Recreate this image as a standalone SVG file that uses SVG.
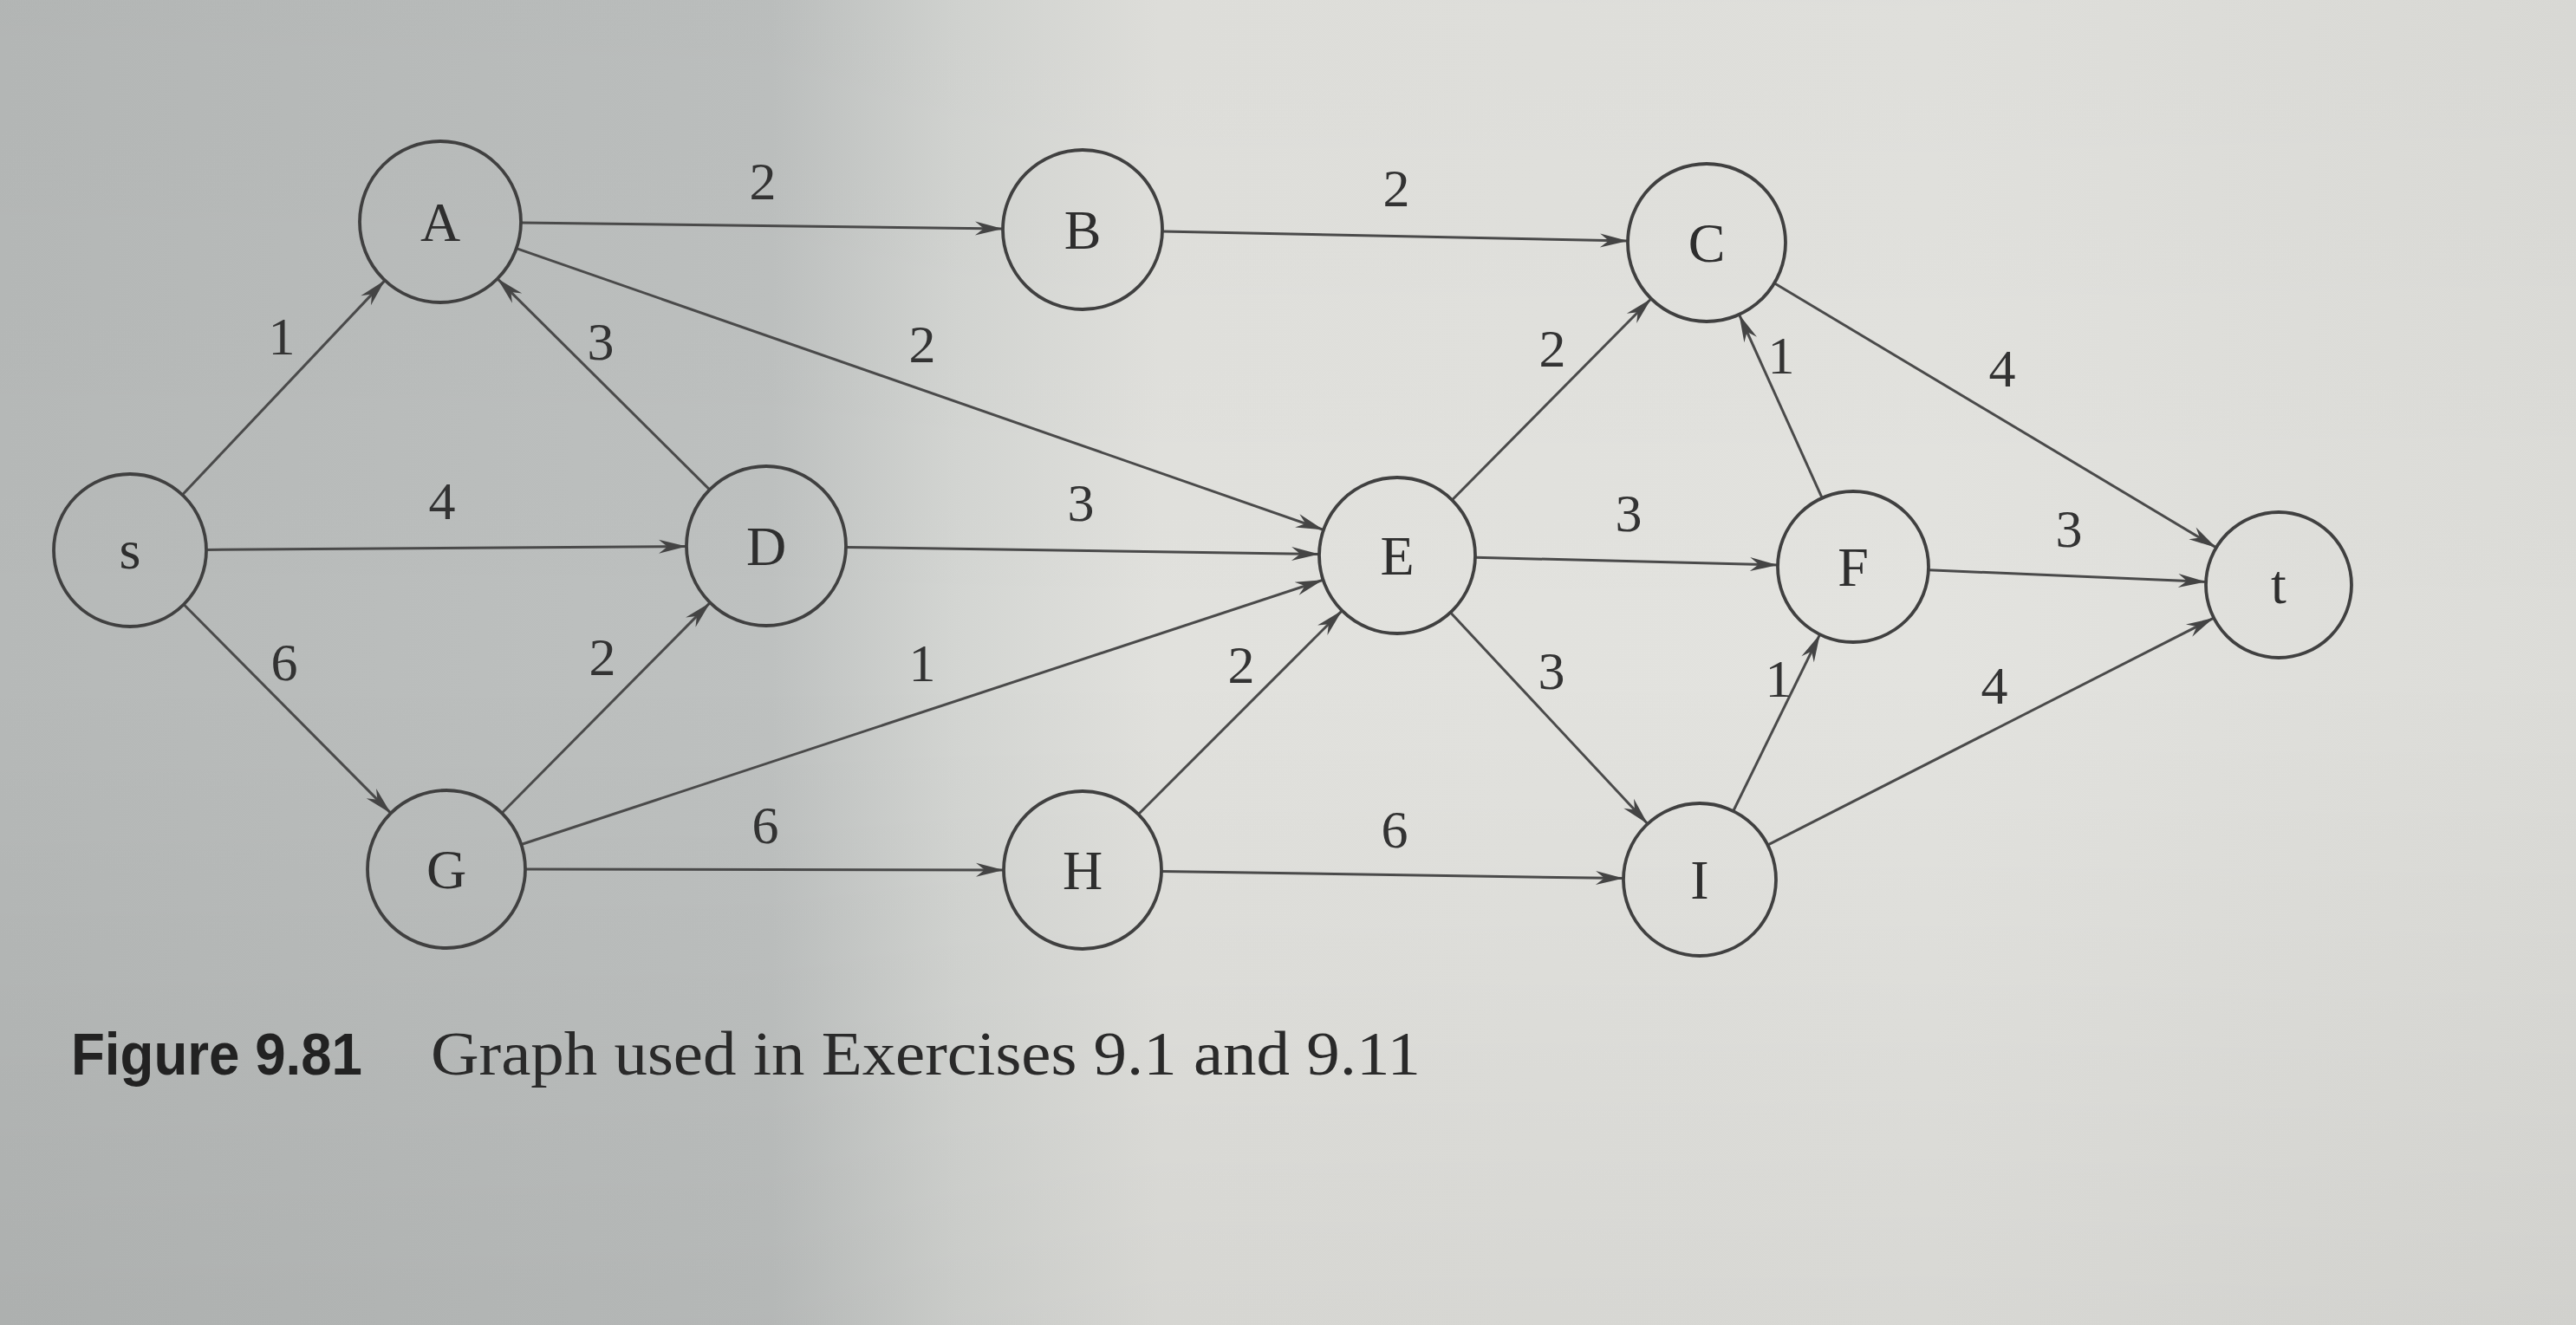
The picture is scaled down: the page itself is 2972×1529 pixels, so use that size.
<svg xmlns="http://www.w3.org/2000/svg" width="2972" height="1529" viewBox="0 0 2972 1529">
<defs>
<linearGradient id="bg" x1="0" y1="0" x2="1" y2="0">
<stop offset="0" stop-color="#b6b9b8"/>
<stop offset="0.3" stop-color="#bec1c0"/>
<stop offset="0.37" stop-color="#d3d5d2"/>
<stop offset="0.45" stop-color="#e1e1dd"/>
<stop offset="0.75" stop-color="#e3e3df"/>
<stop offset="1" stop-color="#dcdcd8"/>
</linearGradient>
<linearGradient id="shade" x1="0" y1="0" x2="0" y2="1">
<stop offset="0" stop-color="#000" stop-opacity="0.02"/>
<stop offset="0.5" stop-color="#000" stop-opacity="0"/>
<stop offset="1" stop-color="#000" stop-opacity="0.05"/>
</linearGradient>
<marker id="arr" markerUnits="userSpaceOnUse" viewBox="-34 -10 36 20" markerWidth="36" markerHeight="20" refX="0" refY="0" orient="auto">
<path d="M0,0 L-32,-8 L-22,0 L-32,8 Z" fill="#444"/>
</marker>
</defs>
<style>
.node circle{fill:none;stroke:#404040;stroke-width:3.8}
.node text{font-family:"Liberation Serif","Times New Roman",serif;font-size:64px;fill:#2e2e2e;text-anchor:middle}
#edges line{stroke:#4a4a4a;stroke-width:3;marker-end:url(#arr)}
.lbl{font-family:"Liberation Serif","Times New Roman",serif;font-size:62px;fill:#333;text-anchor:middle}
</style>
<rect x="0" y="0" width="2972" height="1529" fill="url(#bg)"/>
<rect x="0" y="0" width="2972" height="1529" fill="url(#shade)"/>

<g id="edges">
<line x1="210.4" y1="571.0" x2="444.1" y2="323.6"/>
<line x1="238" y1="634.4" x2="792" y2="630.6"/>
<line x1="212" y1="697.5" x2="450.9" y2="938.4"/>
<line x1="818.8" y1="565.1" x2="573.9" y2="321.6"/>
<line x1="579" y1="938.3" x2="819.3" y2="695.4"/>
<line x1="601" y1="257.1" x2="1157" y2="263.9"/>
<line x1="595.8" y1="286.6" x2="1527.0" y2="611.4"/>
<line x1="976" y1="631.4" x2="1522" y2="639.6"/>
<line x1="601.4" y1="974.5" x2="1526.5" y2="669.2"/>
<line x1="606" y1="1003.1" x2="1158" y2="1003.9"/>
<line x1="1341" y1="266.9" x2="1878" y2="278.1"/>
<line x1="1313.3" y1="939.7" x2="1548.4" y2="704.6"/>
<line x1="1340" y1="1005.4" x2="1873" y2="1013.6"/>
<line x1="1675.3" y1="577.0" x2="1905.0" y2="344.7"/>
<line x1="1702" y1="643.2" x2="2051" y2="651.9"/>
<line x1="1673.4" y1="706.8" x2="1901.0" y2="950.7"/>
<line x1="2102.2" y1="574.7" x2="2006.5" y2="362.9"/>
<line x1="1999.7" y1="936.0" x2="2099.7" y2="732.1"/>
<line x1="2047.1" y1="326.7" x2="2556.9" y2="631.9"/>
<line x1="2224.9" y1="657.7" x2="2545.1" y2="671.4"/>
<line x1="2039.4" y1="975.1" x2="2554.1" y2="713.1"/>
</g>

<g id="edge-labels">
<text class="lbl" x="880" y="230">2</text>
<text class="lbl" x="1611" y="238">2</text>
<text class="lbl" x="325" y="409">1</text>
<text class="lbl" x="693" y="415">3</text>
<text class="lbl" x="1064" y="418">2</text>
<text class="lbl" x="510" y="599">4</text>
<text class="lbl" x="1247" y="601">3</text>
<text class="lbl" x="328" y="785">6</text>
<text class="lbl" x="695" y="779">2</text>
<text class="lbl" x="1064" y="786">1</text>
<text class="lbl" x="1432" y="788">2</text>
<text class="lbl" x="883" y="973">6</text>
<text class="lbl" x="1609" y="978">6</text>
<text class="lbl" x="1791" y="423">2</text>
<text class="lbl" x="2055" y="431">1</text>
<text class="lbl" x="2310" y="446">4</text>
<text class="lbl" x="1879" y="613">3</text>
<text class="lbl" x="2387" y="631">3</text>
<text class="lbl" x="1790" y="795">3</text>
<text class="lbl" x="2052" y="804">1</text>
<text class="lbl" x="2301" y="812">4</text>
</g>

<g id="node-s" class="node"><circle cx="150" cy="635" r="88"/><text x="150" y="656">s</text></g>
<g id="node-A" class="node"><circle cx="508" cy="256" r="93"/><text x="508" y="278">A</text></g>
<g id="node-B" class="node"><circle cx="1249" cy="265" r="92"/><text x="1249" y="287">B</text></g>
<g id="node-C" class="node"><circle cx="1969" cy="280" r="91"/><text x="1969" y="302">C</text></g>
<g id="node-D" class="node"><circle cx="884" cy="630" r="92"/><text x="884" y="652">D</text></g>
<g id="node-E" class="node"><circle cx="1612" cy="641" r="90"/><text x="1612" y="663">E</text></g>
<g id="node-F" class="node"><circle cx="2138" cy="654" r="87"/><text x="2138" y="676">F</text></g>
<g id="node-t" class="node"><circle cx="2629" cy="675" r="84"/><text x="2629" y="696">t</text></g>
<g id="node-G" class="node"><circle cx="515" cy="1003" r="91"/><text x="515" y="1025">G</text></g>
<g id="node-H" class="node"><circle cx="1249" cy="1004" r="91"/><text x="1249" y="1026">H</text></g>
<g id="node-I" class="node"><circle cx="1961" cy="1015" r="88"/><text x="1961" y="1037">I</text></g>

<g id="caption">
<text x="82" y="1240" font-family="'Liberation Sans Narrow','Liberation Sans',Arial,sans-serif" font-weight="bold" font-size="68" fill="#222" textLength="336" lengthAdjust="spacingAndGlyphs">Figure 9.81</text>
<text x="497" y="1240" font-family="'Liberation Serif','Times New Roman',serif" font-size="72" fill="#2a2a2a" textLength="1142" lengthAdjust="spacingAndGlyphs">Graph used in Exercises 9.1 and 9.11</text>
</g>
</svg>
